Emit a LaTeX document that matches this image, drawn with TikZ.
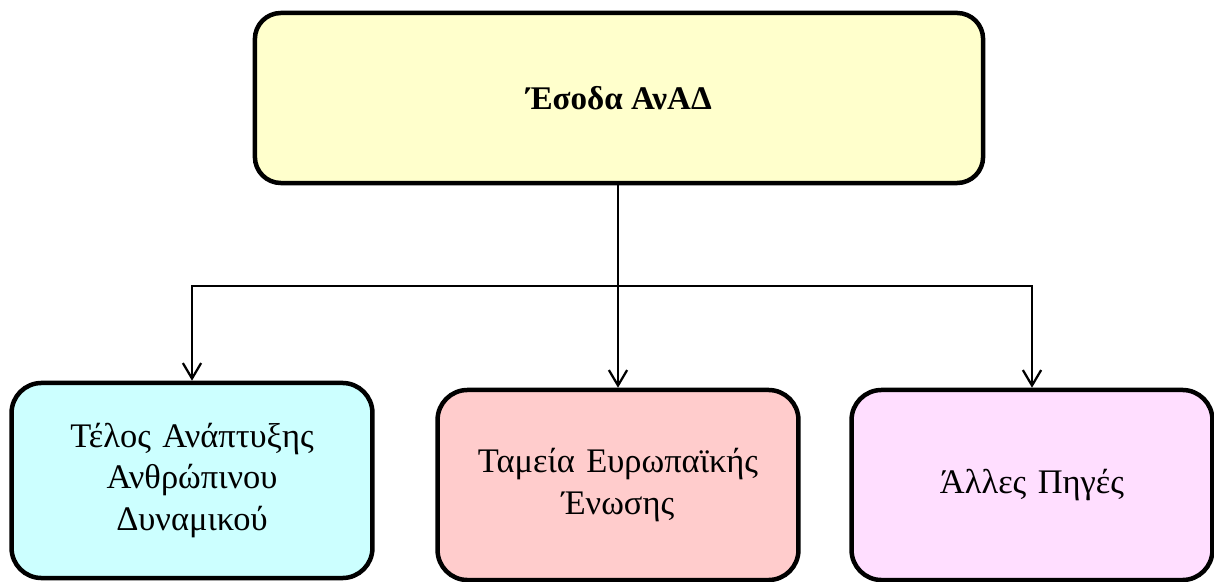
\documentclass[tikz,border=0pt]{standalone}
\usepackage{fontspec}
\setmainfont{Liberation Serif}
\usepackage{tikz}
\usetikzlibrary{calc,positioning,arrows.meta}
\definecolor{yellowbox}{RGB}{255,255,204}
\definecolor{cyanbox}{RGB}{204,255,255}
\definecolor{pinkbox}{RGB}{255,204,204}
\definecolor{violetbox}{RGB}{255,222,255}
\tikzset{
    >={Straight Barb[length=11pt,width=13pt]},
    topbox/.style={
        rectangle,
        rounded corners=0.65cm,
        draw=black, line width=3.2pt,
        fill=yellowbox,
        minimum width=18.2cm,
        minimum height=4.25cm,
        font={\fontsize{23.5pt}{28}\selectfont\bfseries}
    },
    leafbox/.style={
        rectangle,
        rounded corners=0.75cm,
        draw=black, line width=3.2pt,
        minimum width=9.02cm,
        minimum height=4.75cm,
        text width=8.4cm,
        align=center,
        font={\fontsize{24.5pt}{29.6}\selectfont}
    },
    line/.style={draw, line width=1.6pt, ->},
}
\begin{document}
\begin{tikzpicture}[x=0.025cm, y=-0.025cm]
\useasboundingbox (0,0) rectangle (1214,582);
\node[topbox](Esoda) at (619, 98){Έσοδα ΑνΑΔ};
\node[leafbox, fill=cyanbox, minimum height=4.875cm](Telos) at (192, 480.5){Τέλος Ανάπτυξης\\Ανθρώπινου\\Δυναμικού};
\node[leafbox, fill=pinkbox](Tameia) at (618, 485){Ταμεία Ευρωπαϊκής\\Ένωσης};
\node[leafbox, fill=violetbox](Alles) at (1032, 485){Άλλες Πηγές};
\coordinate(split) at (618, 286);
\draw[line] (Esoda.south -| Tameia.north) -- (Tameia.north);
\draw[line] (split) -| (Telos.north);
\draw[line] (split) -| (Alles.north);
\end{tikzpicture}
\end{document}
